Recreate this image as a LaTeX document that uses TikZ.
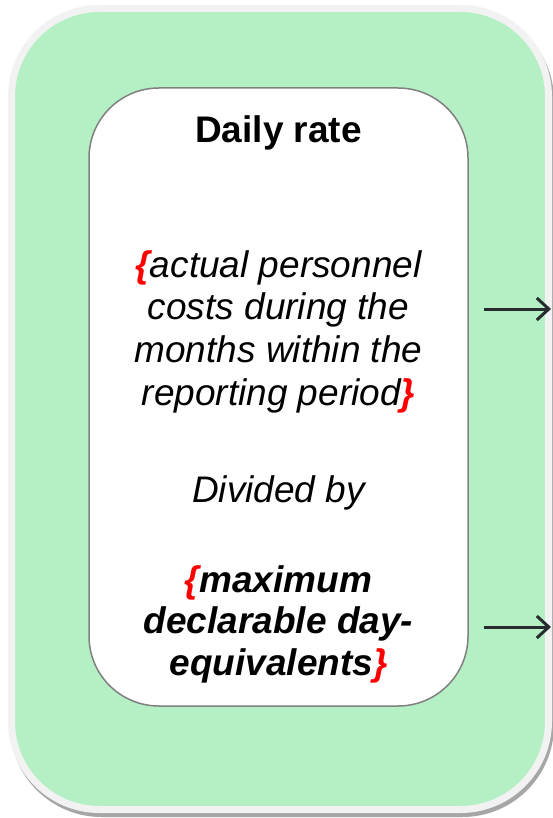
\documentclass[tikz,border=0pt]{standalone}
\usepackage{fontspec}
\setmainfont{Liberation Sans}
\usetikzlibrary{arrows.meta}
\usetikzlibrary{positioning}
\tikzset{>={Straight Barb[length=12pt,width=22pt]}}
\newcommand{\redbr}[1]{{\color{red}\bfseries #1}}

\begin{document}
\begin{tikzpicture}[x=1pt,y=1pt,yscale=-1,font=\fontsize{37}{42.6}\selectfont]
\useasboundingbox (0,0) rectangle (552,818);

%Rounded Rect shadow [id:sh01]
\draw [color={rgb, 255:red, 166; green, 166; blue, 166 } ,fill={rgb, 255:red, 166; green, 166; blue, 166 } ,line width=7 ,rounded corners=88]  (13.5,12.5) rectangle (550.5,813.5) ;
%Rounded Rect outer [id:dp01]
\draw [color={rgb, 255:red, 242; green, 242; blue, 242 } ,fill={rgb, 255:red, 181; green, 240; blue, 196 } ,line width=7 ,rounded corners=88]  (11.5,8.5) rectangle (548.5,809.5) ;

%Rounded Rect inner [id:dp02]
\node (box) [draw={rgb, 255:red, 128; green, 128; blue, 128 } ,fill=white ,line width=1.5 ,rounded corners=70 ,minimum width=379pt ,minimum height=618pt ,inner sep=0pt] at (278.5,397) {};

%Text
\node (title) [anchor=base ,font=\fontsize{37}{42.6}\selectfont\bfseries] at (278.5,143) {Daily rate};
\node (costs) [anchor=base ,align=center ,font=\fontsize{37}{42.6}\selectfont\itshape] at (278.5,405) {\redbr{\{}actual personnel\\costs during the\\months within the\\reporting period\redbr{\}}};
\node (divided) [anchor=base ,font=\fontsize{37}{42.6}\selectfont\itshape] at (278.5,502) {Divided by};
\node (days) [anchor=base ,align=center ,font=\fontsize{37}{41.5}\selectfont\bfseries\itshape] at (278.5,675) {\redbr{\{}maximum\\declarable day-\\equivalents\redbr{\}}};

%Straight Lines [id:da01]
\coordinate (tipA) at (551,309);
\coordinate (tipB) at (551,627);
\draw [color={rgb, 255:red, 40; green, 44; blue, 48 } ,line width=3 ,->]  ([xshift=15pt]box.east |- tipA) -- (tipA) ;
%Straight Lines [id:da02]
\draw [color={rgb, 255:red, 40; green, 44; blue, 48 } ,line width=3 ,->]  ([xshift=15pt]box.east |- tipB) -- (tipB) ;
\end{tikzpicture}
\end{document}
